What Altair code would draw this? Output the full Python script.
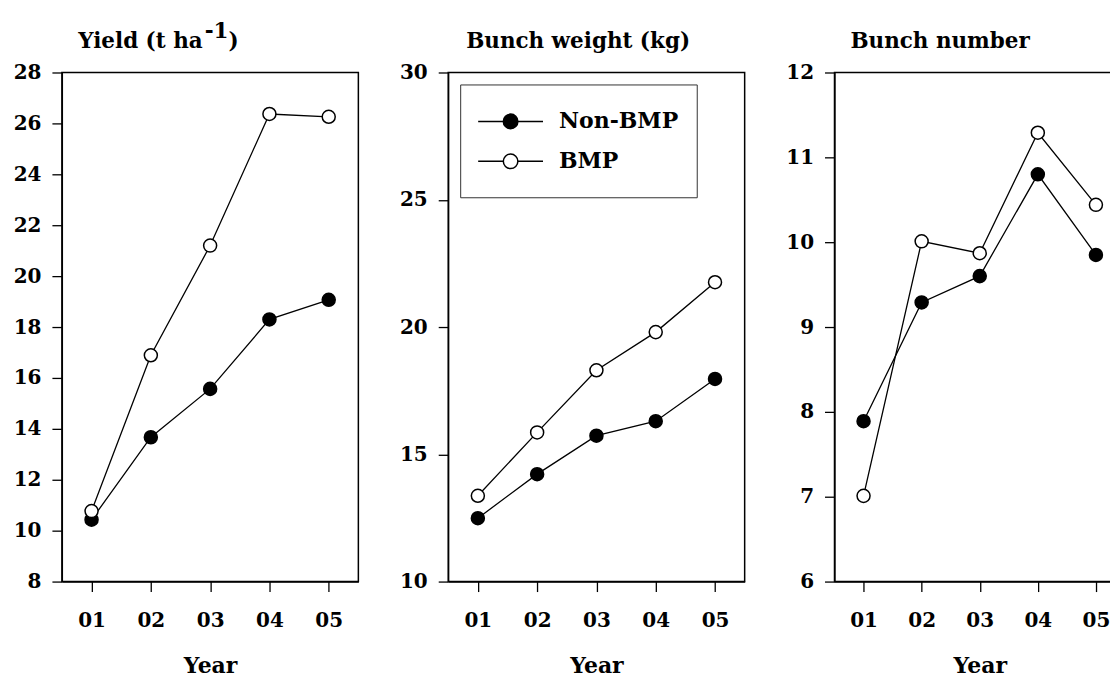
import altair as alt
import pandas as pd

# ---------------- data ----------------
years = ["01", "02", "03", "04", "05"]
series = ["Non-BMP", "BMP"]

yield_non = [10.43, 13.67, 15.57, 18.30, 19.07]
yield_bmp = [10.77, 16.89, 21.20, 26.37, 26.26]

weight_non = [12.49, 14.22, 15.73, 16.30, 17.96]
weight_bmp = [13.37, 15.86, 18.30, 19.80, 21.76]

number_non = [7.89, 9.29, 9.60, 10.80, 9.85]
number_bmp = [7.01, 10.01, 9.87, 11.29, 10.44]

yield_ticks = [8, 10, 12, 14, 16, 18, 20, 22, 24, 26, 28]
weight_ticks = [10, 15, 20, 25, 30]
number_ticks = [6, 7, 8, 9, 10, 11, 12]

FONT = "DejaVu Serif"
H = 510
TFS = 21.5  # panel title font size

# line + circle legend glyph; unit = sqrt(symbolSize)/2 = 18.25 px
LEG_PATH = ("M0,-1.03M0,0.8"
            "M-1.04,0H0.34M1.14,0H2.52"
            "M0.34,0A0.4,0.4,0,1,1,1.14,0A0.4,0.4,0,1,1,0.34,0Z")


def make_df(non, bmp):
    return pd.DataFrame({
        "year": years + years,
        "series": [series[0]] * len(years) + [series[1]] * len(years),
        "value": non + bmp,
    })


def title_layers(parts):
    out = []
    for text, x, y, align in parts:
        out.append(
            alt.Chart(pd.DataFrame({"t": [text]}))
            .mark_text(font=FONT, fontSize=TFS, fontWeight="bold", align=align,
                       baseline="alphabetic", color="black")
            .encode(text="t:N", x=alt.value(x), y=alt.value(y))
        )
    return out


def panel(non, bmp, domain, ticks, parts, legend, width):
    df = make_df(non, bmp)
    x = alt.X("year:O", sort=years,
              scale=alt.Scale(type="point", padding=0.5),
              axis=alt.Axis(title="Year", labelAngle=0, labelPadding=19,
                            titlePadding=25, tickSize=10))
    y = alt.Y("value:Q",
              scale=alt.Scale(domain=domain, nice=False, zero=False),
              axis=alt.Axis(values=ticks, title=None, labelPadding=11, tickSize=10))
    base = alt.Chart(df).encode(x=x, y=y)
    lines = base.mark_line(color="black", strokeWidth=1.3).encode(detail="series:N")
    if legend:
        leg = alt.Legend(title=None, orient="none", legendX=12, legendY=12,
                         direction="vertical", symbolType=LEG_PATH, symbolSize=1332,
                         symbolStrokeColor="black", symbolStrokeWidth=1.5,
                         symbolOffset=0, labelOffset=43, labelFont=FONT,
                         labelFontSize=22, labelFontWeight="bold", labelColor="black",
                         labelExpr="datum.label + ' '",
                         labelLimit=300, rowPadding=0, padding=18,
                         strokeColor="#333333", fillColor="white")
    else:
        leg = None
    points = base.mark_point(shape="circle", size=170, filled=True, stroke="black",
                             strokeWidth=1.5, opacity=1).encode(
        fill=alt.Fill("series:N", sort=series,
                      scale=alt.Scale(domain=series, range=["black", "white"]),
                      legend=leg)
    )
    return alt.layer(lines, points, *title_layers(parts)).properties(width=width, height=H)


p1 = panel(yield_non, yield_bmp, [8, 28], yield_ticks,
           [("Yield (t ha", 141, -25, "right"), ("-1", 143, -35, "left"),
            (")", 167, -25, "left")], False, 297)
p2 = panel(weight_non, weight_bmp, [10, 30], weight_ticks,
           [("Bunch weight (kg)", 18, -25, "left")], True, 297)
p3 = panel(number_non, number_bmp, [6, 12], number_ticks,
           [("Bunch number", 16, -25, "left")], False, 291)

chart = (
    alt.hconcat(p1, p2, p3, spacing=39)
    .resolve_scale(x="independent", y="independent", fill="independent")
    .properties(background="white",
                padding={"left": 4, "top": 11, "right": -16, "bottom": 0})
    .configure_view(stroke="black", strokeWidth=1.5)
    .configure_axis(domainColor="black", domainWidth=1.3, tickColor="black",
                    tickWidth=1.3, labelFont=FONT, labelFontSize=20,
                    labelFontWeight="bold", labelColor="black", titleFont=FONT,
                    titleFontSize=22, titleFontWeight="bold", titleColor="black",
                    grid=False)
)

chart.save("out.html", embed_options={"renderer": "svg", "actions": False})
